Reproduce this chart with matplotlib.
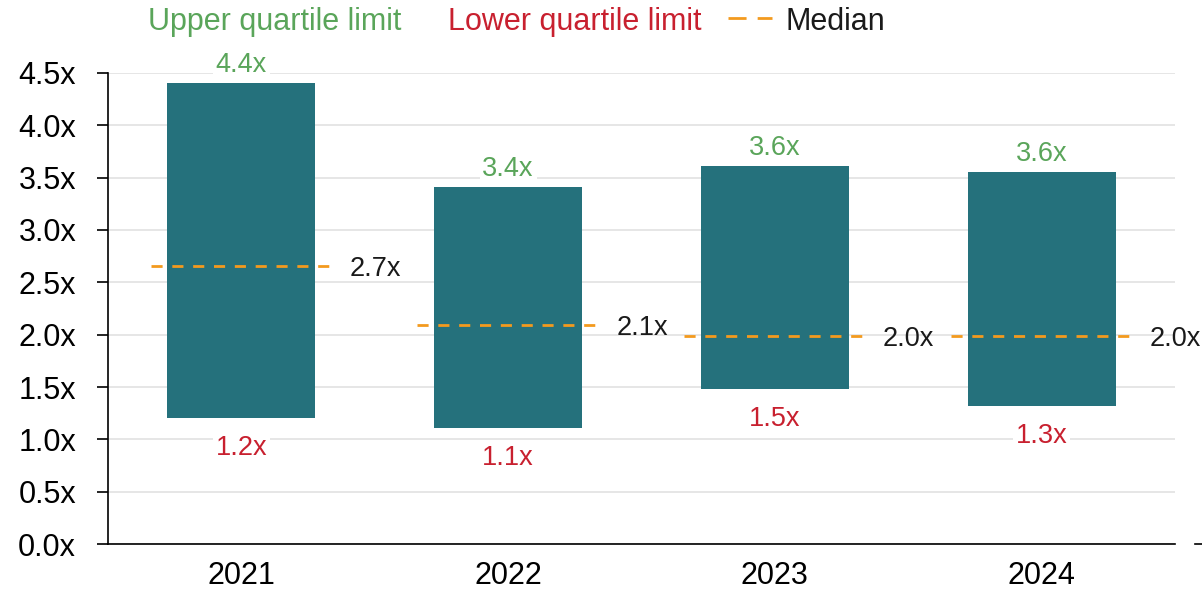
import matplotlib.pyplot as plt
from matplotlib.lines import Line2D
import numpy as np

years = ['2021', '2022', '2023', '2024']
upper = [4.40, 3.41, 3.61, 3.55]
lower = [1.20, 1.11, 1.48, 1.32]
median = [2.66, 2.09, 1.99, 1.99]
upper_labels = ['4.4x', '3.4x', '3.6x', '3.6x']
lower_labels = ['1.2x', '1.1x', '1.5x', '1.3x']
median_labels = ['2.7x', '2.1x', '2.0x', '2.0x']

bar_color = '#25717c'
green = '#5aa55a'
red = '#c8202f'
orange = '#f39a1e'

plt.rcParams['font.family'] = ['Liberation Sans', 'DejaVu Sans']

fig = plt.figure(figsize=(12.02, 5.91), dpi=100)
ax = fig.add_axes([0.0899, 0.0795, 0.8876, 0.797])

x = np.arange(len(years))
width = 0.555
ax.bar(x, np.array(upper) - np.array(lower), bottom=lower, width=width,
       color=bar_color, zorder=2)

for i in range(len(years)):
    ax.plot([x[i] - 0.34, x[i] + 0.34], [median[i], median[i]], color=orange,
            lw=2, dashes=(4, 3.5), zorder=3)
    ax.text(x[i] + 0.405, median[i] - 0.03, median_labels[i], fontsize=19.5,
            color='#1a1a1a', va='center', ha='left', clip_on=False, zorder=4)
    ax.text(x[i], upper[i] + 0.05, upper_labels[i], fontsize=19.5, color=green,
            ha='center', va='bottom', zorder=4,
            bbox=dict(facecolor='white', edgecolor='none', pad=2))
    ax.text(x[i], lower[i] - 0.16, lower_labels[i], fontsize=19.5, color=red,
            ha='center', va='top', zorder=4,
            bbox=dict(facecolor='white', edgecolor='none', pad=2))

ax.set_xlim(-0.5, 3.5)
ax.set_ylim(0, 4.5)
ax.set_yticks(np.arange(0, 4.51, 0.5))
ax.set_yticklabels(['%.1fx' % v for v in np.arange(0, 4.51, 0.5)])
ax.set_xticks(x)
ax.set_xticklabels(years)
ax.tick_params(axis='y', length=8, width=1.2, pad=15, labelsize=22)
ax.tick_params(axis='x', length=0, pad=12, labelsize=22)
ax.grid(axis='y', color='#e2e2e2', lw=1.2, zorder=0)
ax.set_axisbelow(True)
for s in ['top', 'right']:
    ax.spines[s].set_visible(False)
ax.spines['left'].set_linewidth(1.2)
ax.spines['bottom'].set_linewidth(1.2)

# legend row at top
fig.text(148 / 1202, 1 - 22 / 591, 'Upper quartile limit', color=green,
         fontsize=22, va='center', ha='left')
fig.text(448 / 1202, 1 - 22 / 591, 'Lower quartile limit', color=red,
         fontsize=22, va='center', ha='left')
fig.add_artist(Line2D([728 / 1202, 772 / 1202], [1 - 18 / 591, 1 - 18 / 591],
                      color=orange, lw=2, dashes=(6.5, 4)))
fig.text(785 / 1202, 1 - 22 / 591, 'Median', color='#1a1a1a',
         fontsize=22, va='center', ha='left')

# stray axis stub at far right
fig.add_artist(Line2D([1195 / 1202, 1.0], [1 - 544 / 591, 1 - 544 / 591],
                      color='black', lw=1.2))

fig.savefig('out.png', dpi=100)
